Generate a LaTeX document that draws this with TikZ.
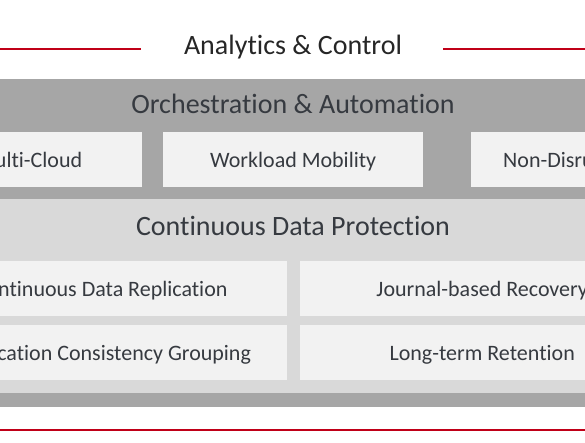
\documentclass[tikz,border=0pt]{standalone}
\usepackage{fontspec}
\setmainfont{Carlito}[Ligatures=NoCommon]
\usepackage{xcolor}
\definecolor{BandDark}{HTML}{A6A6A6}
\definecolor{BandLight}{HTML}{D9D9D9}
\definecolor{BoxFill}{HTML}{F2F2F2}
\definecolor{RuleRed}{HTML}{C00018}
\definecolor{TextTitle}{HTML}{262626}
\definecolor{TextMain}{HTML}{363A40}

\begin{document}
\begin{tikzpicture}[x=1pt, y=-1pt,
		head/.style={anchor=base, text=TextMain, font=\fontsize{28}{32}\selectfont},
		card/.style={anchor=north west, fill=BoxFill, inner sep=0pt, minimum height=54.4pt, text=TextMain, font=\fontsize{22}{26}\selectfont, text height=16pt, text depth=0pt}]
		\useasboundingbox (0,0) rectangle (585,443);
		\clip (0,0) rectangle (585,443);
		
		% Bands
		\fill[BandDark] (0,79.3) rectangle (585,407);
		\fill[BandLight] (0,199.3) rectangle (585,393);
		
		% Title and red rules
		\node[head, text=TextTitle] (analytics) at (293,55) {Analytics \& Control};
		\coordinate (ruleA) at (0,48.7);
		\coordinate (ruleB) at (141,48.7);
		\coordinate (ruleC) at (443,48.7);
		\coordinate (ruleD) at (585,48.7);
		\coordinate (ruleE) at (0,429.7);
		\coordinate (ruleF) at (585,429.7);
		\draw[RuleRed, line width=2.3pt] (ruleA) -- (ruleB) (ruleC) -- (ruleD) (ruleE) -- (ruleF);
		
		% Layer titles
		\node[head] (orch) at (293,113.3) {Orchestration \& Automation};
		\node[head] (cdp) at (293,236) {Continuous Data Protection};
		
		% Orchestration cards
		\node[card, minimum width=226pt] (multi) at (-84,132.3) {Multi-Cloud};
		\node[card, minimum width=260pt] (mobility) at (163,132.3) {Workload Mobility};
		\node[card, minimum width=240pt] (nondis) at (471,132.3) {};
		\node[anchor=base west, inner sep=0pt, text=TextMain, font=\fontsize{22}{26}\selectfont] (nondisText) at (503,167.3) {Non-Disruptive};
		
		% Protection cards
		\node[card, minimum width=371pt] (cdr) at (-84.5,261) {Continuous Data Replication};
		\node[card, minimum width=371pt] (acg) at (-84.5,325) {Application Consistency Grouping};
		\node[card, minimum width=364pt] (jbr) at (300,261) {Journal-based Recovery};
		\node[card, minimum width=364pt] (ltr) at (300,325) {Long-term Retention};
	\end{tikzpicture}
\end{document}
